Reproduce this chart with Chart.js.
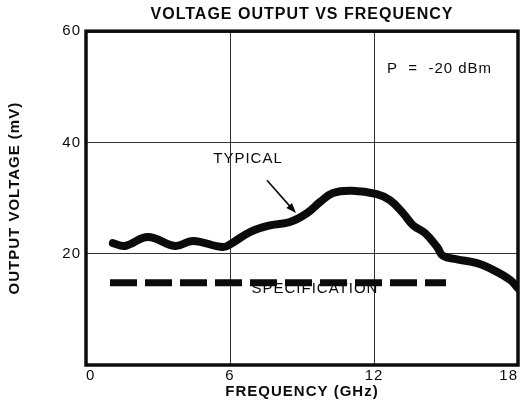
<!DOCTYPE html>
<html>
<head>
<meta charset="utf-8">
<script src="https://cdn.jsdelivr.net/npm/chart.js@4.4.1/dist/chart.umd.min.js"></script>
<style>
  html, body { margin: 0; padding: 0; background: #fff; }
</style>
</head>
<body>
<canvas id="chart" width="521" height="410"></canvas>
<script>
// values
const freqGHz = [1.12, 1.62, 2.58, 3.71, 4.46, 5.71, 6.08, 6.83, 7.67, 8.5, 9.21, 9.75, 10.29, 11.08, 12.12, 12.67, 13.21, 13.63, 14.13, 14.63, 14.88, 15.46, 16.29, 16.96, 17.67, 18.0];
const typicalMv = [21.9, 21.4, 23.0, 21.4, 22.3, 21.2, 21.9, 23.9, 25.1, 25.7, 27.3, 29.3, 30.9, 31.3, 30.7, 29.6, 27.3, 25.1, 23.7, 21.2, 19.6, 19.0, 18.3, 17.1, 15.3, 13.8];
const specFreqGHz = [1, 15];
const specMv = [14.8, 14.8];

const xTickValues = [0, 6, 12, 18];
const yTickValues = [20, 40, 60];

const noteTexts = ['TYPICAL', 'SPECIFICATION', 'P  =  -20 dBm'];
const noteX = [6.75, 9.54, 12.54];
const noteY = [37, 13.65, 53.3];
const noteAlign = ['center', 'center', 'left'];
const arrowFrom = [7.54, 33.2];
const arrowTo = [8.75, 27.3];

const FONT = '"Liberation Sans", Arial, Helvetica, sans-serif';
const INK = '#0b0b0b';
const SPACING = '1px'; // the old lettering is set a bit wide

const notesPlugin = {
  id: 'notes',
  beforeUpdate(chart) { chart.ctx.letterSpacing = SPACING; },
  beforeDraw(chart) { chart.ctx.letterSpacing = SPACING; },
  beforeDatasetsDraw(chart) {
    const ctx = chart.ctx;
    const xs = chart.scales.x;
    const ys = chart.scales.y;
    ctx.save();
    ctx.fillStyle = INK;
    ctx.font = '15px ' + FONT;
    ctx.textBaseline = 'middle';
    noteTexts.forEach((t, i) => {
      ctx.textAlign = noteAlign[i];
      ctx.fillText(t, xs.getPixelForValue(noteX[i]), ys.getPixelForValue(noteY[i]));
    });

    // arrow pointing at the typical curve
    const x1 = xs.getPixelForValue(arrowFrom[0]), y1 = ys.getPixelForValue(arrowFrom[1]);
    const x2 = xs.getPixelForValue(arrowTo[0]), y2 = ys.getPixelForValue(arrowTo[1]);
    const ang = Math.atan2(y2 - y1, x2 - x1);
    ctx.strokeStyle = INK;
    ctx.lineWidth = 1.6;
    ctx.beginPath();
    ctx.moveTo(x1, y1);
    ctx.lineTo(x2 - 6 * Math.cos(ang), y2 - 6 * Math.sin(ang));
    ctx.stroke();
    ctx.beginPath();
    ctx.moveTo(x2, y2);
    ctx.lineTo(x2 - 11 * Math.cos(ang - 0.35), y2 - 11 * Math.sin(ang - 0.35));
    ctx.lineTo(x2 - 11 * Math.cos(ang + 0.35), y2 - 11 * Math.sin(ang + 0.35));
    ctx.closePath();
    ctx.fill();
    ctx.restore();
  },
  afterDatasetsDraw(chart) {
    const a = chart.chartArea;
    const ctx = chart.ctx;
    ctx.save();
    ctx.strokeStyle = INK;
    ctx.lineWidth = 3.5;
    ctx.strokeRect(a.left, a.top, a.right - a.left, a.bottom - a.top);
    ctx.restore();
  }
};

new Chart(document.getElementById('chart'), {
  type: 'line',
  data: {
    datasets: [
      {
        label: 'Typical',
        data: freqGHz.map((f, i) => ({ x: f, y: typicalMv[i] })),
        borderColor: INK,
        borderWidth: 8,
        borderCapStyle: 'round',
        borderJoinStyle: 'round',
        pointRadius: 0,
        tension: 0.4,
        fill: false
      },
      {
        label: 'Specification',
        data: specFreqGHz.map((f, i) => ({ x: f, y: specMv[i] })),
        borderColor: INK,
        borderWidth: 7,
        borderDash: [27, 8],
        borderCapStyle: 'butt',
        pointRadius: 0,
        fill: false
      }
    ]
  },
  options: {
    responsive: false,
    animation: false,
    layout: { padding: { left: 0, right: 3, top: 0, bottom: 0 } },
    plugins: {
      legend: { display: false },
      tooltip: { enabled: false },
      title: {
        display: true,
        text: 'VOLTAGE OUTPUT VS FREQUENCY',
        fullSize: false,
        color: INK,
        font: { family: FONT, size: 16, weight: 'bold' },
        padding: { top: 5, bottom: 7 }
      }
    },
    scales: {
      x: {
        type: 'linear',
        min: 0,
        max: 18,
        afterBuildTicks: s => { s.ticks = xTickValues.map(v => ({ value: v })); },
        afterFit: s => { s.height = 45; s.paddingLeft = 0; s.paddingRight = 0; },
        grid: { color: '#333', lineWidth: 1, drawTicks: false },
        border: { display: false },
        ticks: { color: INK, padding: 2, align: 'inner', maxRotation: 0, font: { family: FONT, size: 15 } },
        title: {
          display: true,
          text: 'FREQUENCY (GHz)',
          color: INK,
          font: { family: FONT, size: 15, weight: 'bold' },
          padding: { top: 0, bottom: 9 }
        }
      },
      y: {
        min: 0,
        max: 60,
        afterBuildTicks: s => { s.ticks = yTickValues.map(v => ({ value: v })); },
        afterFit: s => { s.width = 86; s.paddingTop = 0; s.paddingBottom = 0; },
        grid: { color: '#333', lineWidth: 1, drawTicks: false },
        border: { display: false },
        ticks: { color: INK, padding: 5, font: { family: FONT, size: 15 } },
        title: {
          display: true,
          text: 'OUTPUT VOLTAGE (mV)',
          color: INK,
          font: { family: FONT, size: 15, weight: 'bold' },
          padding: { top: 6, bottom: 0 }
        }
      }
    }
  },
  plugins: [notesPlugin]
});
</script>
</body>
</html>
